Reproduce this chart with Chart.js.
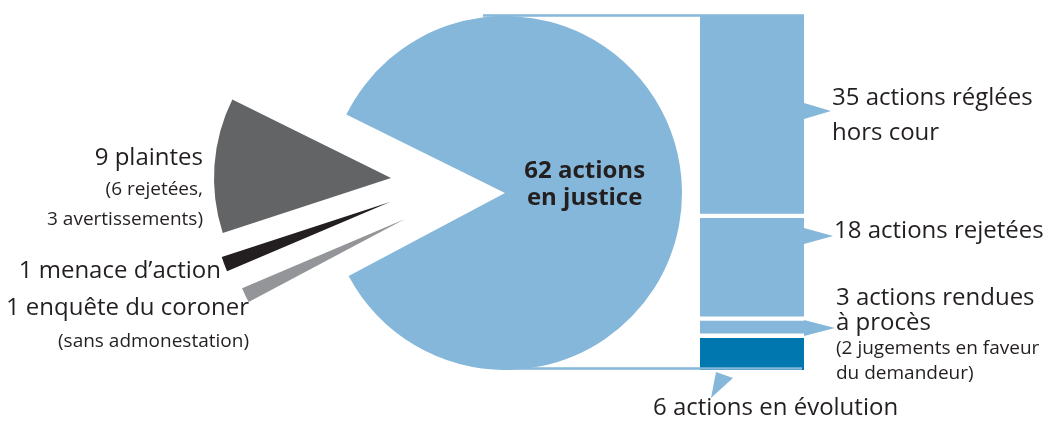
<!DOCTYPE html>
<html lang="fr">
<head>
<meta charset="utf-8">
<title>Actions en justice</title>
<script src="https://cdn.jsdelivr.net/npm/chart.js@4.4.1/dist/chart.umd.min.js"></script>
<style>
  html, body { margin: 0; padding: 0; background: #fff; }
  #wrap { position: relative; width: 1047px; height: 424px; }
  #wrap canvas { position: absolute; left: 0; top: 0; }
</style>
</head>
<body>
<div id="wrap">
  <canvas id="pieChart" width="1047" height="424"></canvas>
  <canvas id="barChart" width="1047" height="424"></canvas>
</div>
<script>
// pie: all cases, first slice is broken down in the bar
const PIE_LABELS = ['Actions en justice', 'Enquête du coroner', 'Menace d’action', 'Plaintes'];
const PIE_VALUES = [62, 1, 1, 9];
const CENTER_NOTE = ['62 actions', 'en justice'];
const PIE_NOTES = [
  [],
  ['1 enquête du coroner', '(sans admonestation)'],
  ['1 menace d’action'],
  ['9 plaintes', '(6 rejetées,', '3 avertissements)'],
];

// bar: the 62 actions en justice, top to bottom
const BAR_LABELS = ['Réglées hors cour', 'Rejetées', 'Rendues à procès', 'En évolution'];
const BAR_VALUES = [35, 18, 3, 6];
const BAR_NOTES = [
  ['35 actions réglées', 'hors cour'],
  ['18 actions rejetées'],
  ['3 actions rendues', 'à procès', '(2 jugements en faveur', 'du demandeur)'],
  ['6 actions en évolution'],
];

const FONT = '"Open Sans", "Noto Sans", Arial, sans-serif';
const TEXT_COLOR = '#231f20';
const LIGHT_BLUE = '#84b7d9';
const PIE_COLORS = [LIGHT_BLUE, '#939598', '#231f20', '#636466'];
const BAR_COLORS = [LIGHT_BLUE, LIGHT_BLUE, LIGHT_BLUE, '#0077ae'];

// exploded slices, pushed left of the pie (px)
const SLICE_SHIFT = [[0, 0], [-100, 26], [-115, 9], [-114, -15]];

// where the notes sit
const PIE_NOTE_STYLE = [
  null,
  { x: 249, y: [315, 347], size: [24, 19] },
  { x: 221, y: [278], size: [24] },
  { x: 203, y: [165, 195, 225], size: [24, 19, 19] },
];
const BAR_NOTE_STYLE = [
  { x: 832, y: [105, 140], size: [24, 24], pointer: 111 },
  { x: 834, y: [238], size: [24], pointer: 236 },
  { x: 836, y: [305, 330, 354, 379], size: [24, 24, 19, 19], pointer: 328 },
  { x: 653, y: [415], size: [24] },
];

function drawNote(ctx, lines, style, align) {
  ctx.textAlign = align;
  lines.forEach((txt, k) => {
    ctx.font = `${style.size[k]}px ${FONT}`;
    ctx.fillText(txt, style.x, style.y[k]);
  });
}

const pieExtras = {
  id: 'pieExtras',
  afterDatasetsUpdate(chart) {
    const ca = chart.chartArea;
    const cx = (ca.left + ca.right) / 2;
    const cy = (ca.top + ca.bottom) / 2;
    chart.getDatasetMeta(0).data.forEach((arc, i) => {
      arc.x = cx + SLICE_SHIFT[i][0];
      arc.y = cy + SLICE_SHIFT[i][1];
    });
  },
  afterDraw(chart) {
    const ctx = chart.ctx;
    const main = chart.getDatasetMeta(0).data[0];
    ctx.save();
    ctx.fillStyle = TEXT_COLOR;
    ctx.textBaseline = 'alphabetic';
    ctx.textAlign = 'center';
    ctx.font = `bold 24px ${FONT}`;
    const lx = main.x + main.outerRadius * 0.45;
    ctx.fillText(CENTER_NOTE[0], lx, main.y - 15);
    ctx.fillText(CENTER_NOTE[1], lx, main.y + 12);
    PIE_NOTES.forEach((lines, i) => {
      if (lines.length) drawNote(ctx, lines, PIE_NOTE_STYLE[i], 'right');
    });
    ctx.restore();
  }
};

const pieChart = new Chart(document.getElementById('pieChart'), {
  type: 'pie',
  data: {
    labels: PIE_LABELS,
    datasets: [{
      data: PIE_VALUES,
      backgroundColor: PIE_COLORS,
      borderWidth: 0,
    }]
  },
  options: {
    responsive: false,
    animation: false,
    events: [],
    rotation: 296.3,
    radius: 177,
    layout: { padding: { left: 0, right: 37, top: 0, bottom: 38 } },
    plugins: { legend: { display: false }, tooltip: { enabled: false } },
  },
  plugins: [pieExtras],
});

const barExtras = {
  id: 'barExtras',
  afterDatasetsDraw(chart) {
    const ctx = chart.ctx;
    const n = BAR_VALUES.length;
    const seg = i => chart.getDatasetMeta(n - 1 - i).data[0];
    const arc = pieChart.getDatasetMeta(0).data[0];
    const top = arc.y - arc.outerRadius;
    const bottom = arc.y + arc.outerRadius;
    const right = seg(0).x + seg(0).width / 2;
    const left = seg(0).x - seg(0).width / 2;

    ctx.save();
    // connector lines pie -> bar
    ctx.strokeStyle = LIGHT_BLUE;
    ctx.lineWidth = 2.5;
    ctx.beginPath();
    ctx.moveTo(arc.x - 22, top - 0.5);
    ctx.lineTo(right, top - 0.5);
    ctx.moveTo(arc.x - 5, bottom - 1.5);
    ctx.lineTo(right - 2, bottom - 1.5);
    ctx.stroke();

    // pointers
    ctx.fillStyle = LIGHT_BLUE;
    for (let i = 0; i < 3; i++) {
      const st = BAR_NOTE_STYLE[i];
      ctx.beginPath();
      ctx.moveTo(right, st.pointer - 8);
      ctx.lineTo(st.x - 1, st.pointer);
      ctx.lineTo(right, st.pointer + 8);
      ctx.closePath();
      ctx.fill();
    }
    const base = seg(n - 1).base;
    ctx.beginPath();
    ctx.moveTo(left + 16, base + 2);
    ctx.lineTo(left + 33, base + 8);
    ctx.lineTo(left + 11, base + 28);
    ctx.closePath();
    ctx.fill();

    // notes
    ctx.fillStyle = TEXT_COLOR;
    ctx.textBaseline = 'alphabetic';
    BAR_NOTES.forEach((lines, i) => drawNote(ctx, lines, BAR_NOTE_STYLE[i], 'left'));
    ctx.restore();
  }
};

// stacked bottom-up, so the last segment goes first
const barDatasets = BAR_VALUES.map((v, i) => {
  const last = i === BAR_VALUES.length - 1;
  return {
    label: BAR_LABELS[i],
    data: [v],
    backgroundColor: BAR_COLORS[i],
    borderColor: '#ffffff',
    borderWidth: { top: i === 0 ? 0 : 2.5, bottom: last ? 0 : 2.5, left: 0, right: 0 },
    borderSkipped: false,
  };
}).reverse();

new Chart(document.getElementById('barChart'), {
  type: 'bar',
  data: { labels: ['Actions en justice'], datasets: barDatasets },
  options: {
    responsive: false,
    animation: false,
    events: [],
    barPercentage: 1,
    categoryPercentage: 1,
    layout: { padding: { left: 700, right: 243, top: 16, bottom: 54 } },
    scales: {
      x: { stacked: true, display: false },
      y: { stacked: true, display: false, min: 0, max: BAR_VALUES.reduce((a, b) => a + b, 0) },
    },
    plugins: { legend: { display: false }, tooltip: { enabled: false } },
  },
  plugins: [barExtras],
});
</script>
</body>
</html>
